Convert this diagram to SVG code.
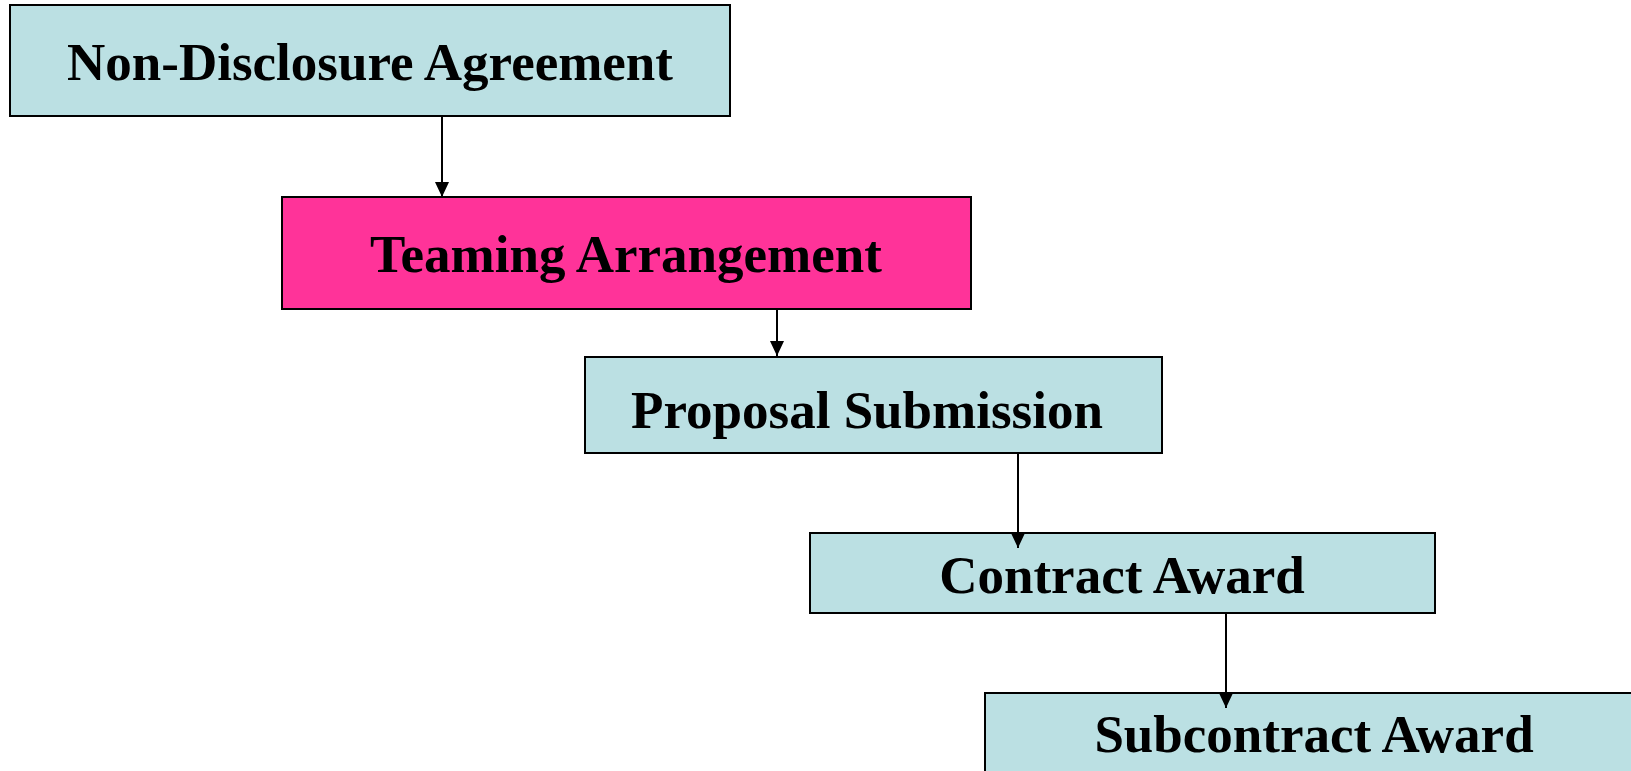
<svg xmlns="http://www.w3.org/2000/svg" width="1631" height="771" viewBox="0 0 1631 771">
<style>
.box{fill:#BBE0E3;stroke:#000;stroke-width:2}
.hot{fill:#FF3399;stroke:#000;stroke-width:2}
.lbl{font-family:"Liberation Serif","Times New Roman",serif;font-weight:bold;font-size:53px;fill:#000;text-anchor:middle}
.con{stroke:#000;stroke-width:2;fill:none;marker-end:url(#ah)}
</style>
<defs>
<marker id="ah" markerUnits="userSpaceOnUse" markerWidth="15" markerHeight="14" refX="15" refY="7" orient="auto" viewBox="0 0 15 14">
<path d="M0,0 L15,7 L0,14 z" fill="#000"/>
</marker>
</defs>
<rect width="1631" height="771" fill="#fff"/>
<g id="nda">
<rect class="box" x="10" y="5" width="720" height="111"/>
<text class="lbl" x="370" y="80">Non-Disclosure Agreement</text>
</g>
<g id="teaming">
<rect class="hot" x="282" y="197" width="689" height="112"/>
<text class="lbl" x="626" y="272">Teaming Arrangement</text>
</g>
<g id="proposal">
<rect class="box" x="585" y="357" width="577" height="96"/>
<text class="lbl" x="867" y="428">Proposal Submission</text>
</g>
<g id="contract">
<rect class="box" x="810" y="533" width="625" height="80"/>
<text class="lbl" x="1122" y="593">Contract Award</text>
</g>
<g id="subcontract">
<rect class="box" x="985" y="693" width="660" height="82"/>
<text class="lbl" x="1314" y="752">Subcontract Award</text>
</g>
<g id="connectors">
<line class="con" x1="442" y1="116" x2="442" y2="197"/>
<line class="con" x1="777" y1="309" x2="777" y2="356"/>
<line class="con" x1="1018" y1="453" x2="1018" y2="548"/>
<line class="con" x1="1226" y1="613" x2="1226" y2="708"/>
</g>
</svg>
